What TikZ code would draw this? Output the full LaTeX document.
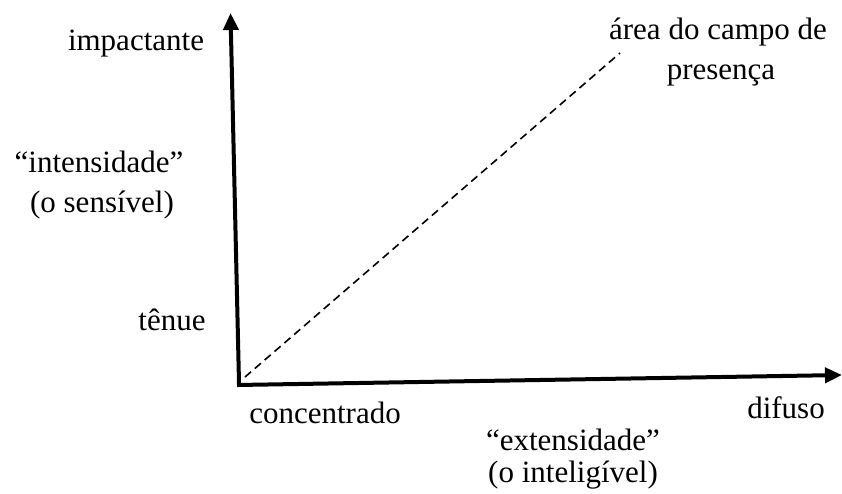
\documentclass[tikz,border=0pt]{standalone}
\usepackage{fontspec}
\setmainfont{Liberation Serif}
\usetikzlibrary{arrows.meta}
\begin{document}
\begin{tikzpicture}[x=1pt,y=-1pt,
  lbl/.style={font=\fontsize{31}{40}\selectfont, inner sep=0pt, anchor=base, align=center},
  axis/.style={line width=4pt, -{Triangle[length=17pt,width=15pt]}},
  diag/.style={line width=1.6pt, dash pattern=on 8pt off 5pt}]
\useasboundingbox (0,0) rectangle (842,493);
\coordinate (O) at (239,385);
\coordinate (T) at (230.5,13);
\coordinate (R) at (842,375);
\coordinate (D0) at (245,377);
\coordinate (D1) at (620,53);
\draw[axis] ([xshift=-2pt]O) -- (R);
\draw[axis] ([yshift=2pt]O) -- (T);
\draw[diag] (D0) -- (D1);
\node[lbl] (imp) at (136,50) {impactante};
\node[lbl] (area) at (718,39) {área do campo de};
\node[lbl] (pres) at (721,79) {presença};
\node[lbl] (int) at (99,172) {“intensidade”};
\node[lbl] (sens) at (102,212) {(o sensível)};
\node[lbl] (ten) at (172,330) {tênue};
\node[lbl] (conc) at (325,423) {concentrado};
\node[lbl] (dif) at (786,418) {difuso};
\node[lbl] (ext) at (573,450) {“extensidade”};
\node[lbl] (intel) at (573,482) {(o inteligível)};
\end{tikzpicture}
\end{document}
